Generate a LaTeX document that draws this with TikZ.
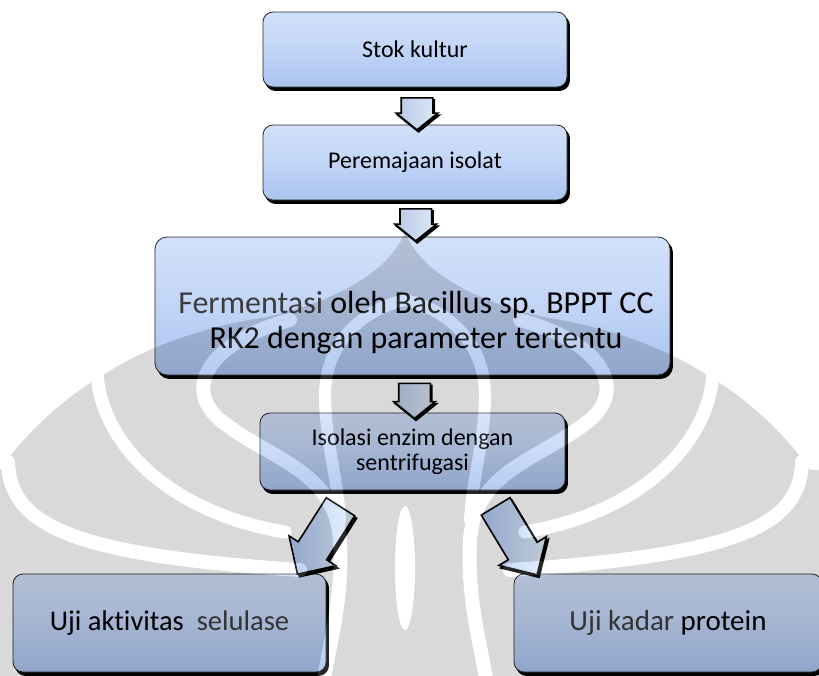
\documentclass[tikz,border=0pt]{standalone}
\usepackage{fontspec}
\setmainfont{Carlito}[Ligatures=NoCommon]
\usetikzlibrary{shapes.arrows,shadows,calc}
\definecolor{bxA}{RGB}{224,234,252}
\definecolor{bxB}{RGB}{198,216,248}
\definecolor{bxC}{RGB}{158,186,236}
\definecolor{bxD}{RGB}{176,202,244}
\definecolor{arL}{RGB}{222,231,246}
\definecolor{arR}{RGB}{184,201,230}
\definecolor{daL}{RGB}{228,238,253}
\definecolor{daR}{RGB}{172,199,242}
\definecolor{txg}{RGB}{60,60,60}
\pgfdeclareverticalshading{boxsh}{100bp}{color(0bp)=(bxD); color(12bp)=(bxC); color(55bp)=(bxB); color(100bp)=(bxA)}
\tikzset{
  box/.style={rounded corners=10pt, draw=black!85, line width=0.8pt, shading=boxsh,
    copy shadow={shadow xshift=2.5pt, shadow yshift=-3.5pt, fill=black, draw=black},
    inner sep=0pt, align=center, text=black},
  varrow/.style={single arrow, single arrow head extend=5pt, single arrow tip angle=102,
    inner xsep=0pt, inner ysep=15pt, draw=black, line width=1.6pt,
    left color=arR, right color=arL,
    copy shadow={shadow xshift=1.5pt, shadow yshift=-2pt, fill=black, draw=black}},
  darrow/.style={single arrow, single arrow head extend=11pt, single arrow tip angle=90,
    minimum height=80pt, inner xsep=0pt, inner ysep=16pt, draw=black, line width=1.6pt,
    left color=daR, right color=daL,
    copy shadow={shadow xshift=2pt, shadow yshift=-2.5pt, fill=black, draw=black}},
  wband/.style={draw=white, line width=14pt, line cap=round}
}
\begin{document}
\begin{tikzpicture}[x=1pt, y=-1pt]
\useasboundingbox (0,0) rectangle (819,675);
\fill[white] (0,0) rectangle (819,675);

% boxes
\node[box, minimum width=304pt, minimum height=75pt, font=\fontsize{24}{28}\selectfont] (b1) at (415,49.5) {Stok kultur};
\node[box, minimum width=304pt, minimum height=75pt, font=\fontsize{24}{28}\selectfont] (b2) at (415,162.5) {Peremajaan isolat};
\node[box, rounded corners=12pt, minimum width=515pt, minimum height=138pt] (b3) at (412.5,306) {};
\node[font=\fontsize{32}{35}\selectfont, align=center, inner sep=0pt] (t3) at (416,323) {{\color{txg}Fermentasi} oleh Bacillus sp. BPPT CC\\RK2 dengan parameter tertentu};
\node[box, minimum width=305pt, minimum height=77pt, font=\fontsize{24}{25}\selectfont] (b4) at (412.5,451.5) {Isolasi enzim dengan\\sentrifugasi};
\node[box, minimum width=313pt, minimum height=98pt, font=\fontsize{28.5}{30}\selectfont] (b5) at (169.5,623) {Uji aktivitas\ \ {\color{txg}selulase}};
\node[box, minimum width=308pt, minimum height=98pt, font=\fontsize{29}{30}\selectfont] (b6) at (668,623) {{\color{txg}Uji kadar} protein};

% arrows
\node[varrow, rotate=-90, minimum height=32pt] (a1) at ($(b1.south)!0.5!(b2.north)+(2,1.5)$) {};
\node[varrow, rotate=-90, minimum height=32pt] (a2) at ($(b2.south)!0.5!(b3.north)+(2,0)$) {};
\node[varrow, rotate=-90, minimum height=35pt] (a3) at ($(b3.south)!0.5!(b4.north)+(2,0.5)$) {};
\node[darrow, rotate=-122.5] (a4) at ($(b4.south)+(-89,43)$) {};
\node[darrow, rotate=-58.8] (a5) at ($(b4.south)+(99.5,43)$) {};

% watermark
\begin{scope}[transparency group, opacity=0.15]
  \fill[black] (-10,680) -- (-10,470) -- (0,470)
    .. controls (20,440) and (60,400) .. (100,377)
    .. controls (140,350) and (200,327) .. (267,317)
    .. controls (340,300) and (390,270) .. (405,232)
    .. controls (420,270) and (470,300) .. (543,317)
    .. controls (610,327) and (670,350) .. (710,377)
    .. controls (750,400) and (790,440) .. (810,470)
    -- (830,470) -- (830,680) -- cycle;
  \foreach \s in {1,-1} {
    \begin{scope}[xshift={(1-\s)*405pt}, xscale=\s]
      \draw[wband] (8,462) .. controls (10,525) and (70,555) .. (300,570);
      \draw[wband, line width=13pt] (97,372) .. controls (100,440) and (165,512) .. (285,532);
      \draw[wband] (290,320) .. controls (215,340) and (180,385) .. (220,420)
        .. controls (270,460) and (335,470) .. (340,540)
        .. controls (343,600) and (330,640) .. (322,690);
      \draw[wband, line width=12pt] (405,300) .. controls (360,310) and (325,345) .. (325,395)
        .. controls (325,440) and (338,480) .. (340,520);
    \end{scope}
  }
  \fill[white] (405,568) ellipse [x radius=10, y radius=62];
\end{scope}
\end{tikzpicture}
\end{document}
